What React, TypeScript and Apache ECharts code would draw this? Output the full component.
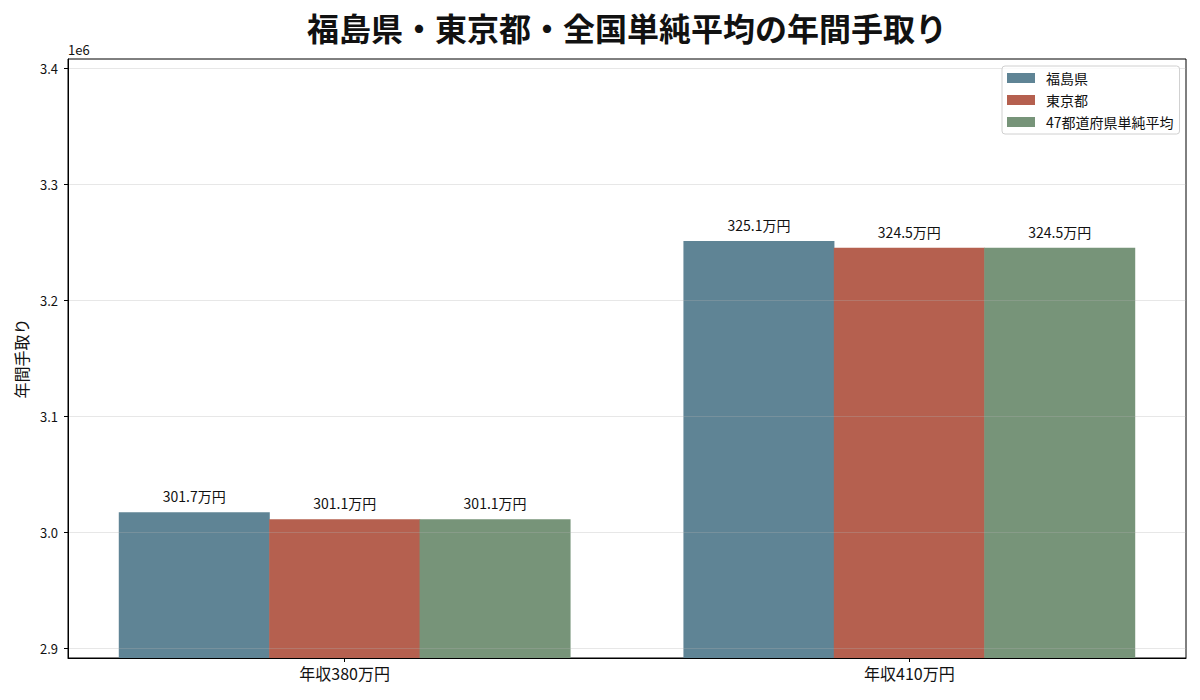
import { useEffect, useRef } from 'react';
import * as echarts from 'echarts';

const categories = ['年収380万円', '年収410万円'];
const fukushima = [3017000, 3251000];
const tokyo = [3011000, 3245000];
const national = [3011000, 3245000];
const seriesNames = ['福島県', '東京都', '47都道府県単純平均'];
const colors = ['#5F8495', '#B5604F', '#779479'];
const yTicks = [2900000, 3000000, 3100000, 3200000, 3300000, 3400000];

const FONT = '"Noto Sans CJK JP", "Noto Sans", sans-serif';

export default function App() {
  const ref = useRef<HTMLDivElement | null>(null);

  useEffect(() => {
    document.body.style.margin = '0';
    if (!ref.current) return;
    const chart = echarts.init(ref.current, undefined, { renderer: 'svg' });

    const makeSeries = (name: string, values: number[], color: string) => ({
      name,
      type: 'bar',
      data: values.map((v, i) => [i, v]),
      barWidth: 151,
      barGap: '-0.4%',
      itemStyle: { color, borderWidth: 0 },
      label: {
        show: true,
        position: 'top',
        distance: 9,
        color: '#111',
        fontSize: 14,
        fontFamily: FONT,
        formatter: (p: any) => `${(p.value[1] / 10000).toFixed(1)}万円`,
      },
    });

    chart.setOption({
      animation: false,
      textStyle: { fontFamily: FONT },
      grid: {
        left: 68,
        right: 14,
        top: 59,
        bottom: 42,
        show: true,
        borderColor: '#000',
        borderWidth: 1,
        backgroundColor: 'transparent',
        containLabel: false,
        outerBoundsMode: 'none',
      },
      legend: {
        orient: 'vertical',
        left: 1002,
        top: 66,
        padding: [5, 6, 5, 5],
        itemWidth: 28,
        itemHeight: 10,
        itemGap: 8,
        icon: 'rect',
        borderColor: '#d0d0d0',
        borderWidth: 1,
        borderRadius: 3,
        backgroundColor: 'rgba(255,255,255,0.8)',
        textStyle: {
          fontSize: 14,
          color: '#111',
          lineHeight: 14,
          padding: [0, 0, 0, 6],
          fontFamily: FONT,
        },
        data: seriesNames,
      },
      xAxis: {
        type: 'value',
        min: -0.49,
        max: 1.49,
        z: 3,
        splitLine: { show: false },
        axisLine: { show: true, onZero: false, lineStyle: { color: '#000', width: 1 } },
        axisTick: {
          show: true,
          customValues: [0, 1],
          length: 4,
          lineStyle: { color: '#000' },
        },
        axisLabel: {
          customValues: [0, 1],
          margin: 7,
          fontSize: 16,
          color: '#111',
          fontFamily: FONT,
          formatter: (v: number) => categories[Math.round(v)] ?? '',
        },
      },
      yAxis: {
        type: 'value',
        min: 2891400,
        max: 3407800,
        z: 3,
        name: '年間手取り',
        nameLocation: 'middle',
        nameGap: 38,
        nameTextStyle: { fontSize: 16, color: '#111', fontFamily: FONT },
        axisLine: { show: true, onZero: false, lineStyle: { color: '#000', width: 1 } },
        axisTick: {
          show: true,
          customValues: yTicks,
          length: 4,
          lineStyle: { color: '#000' },
        },
        axisLabel: {
          customValues: yTicks,
          margin: 10,
          fontSize: 13,
          color: '#111',
          fontFamily: FONT,
          formatter: (v: number) => (v / 1e6).toFixed(1),
        },
        splitLine: {
          show: true,
          lineStyle: { color: 'rgba(176,176,176,0.3)', width: 1 },
        },
      },
      graphic: [
        {
          type: 'text',
          x: 627,
          y: 27,
          style: {
            text: '福島県・東京都・全国単純平均の年間手取り',
            font: `bold 32px ${FONT}`,
            fill: '#111',
            textAlign: 'center',
            textVerticalAlign: 'middle',
          },
        },
        {
          type: 'text',
          x: 68,
          y: 49,
          style: {
            text: '1e6',
            font: `13px ${FONT}`,
            fill: '#111',
            textAlign: 'left',
            textVerticalAlign: 'middle',
          },
        },
      ],
      series: [
        makeSeries(seriesNames[0], fukushima, colors[0]),
        makeSeries(seriesNames[1], tokyo, colors[1]),
        makeSeries(seriesNames[2], national, colors[2]),
      ],
    });

    return () => {
      chart.dispose();
    };
  }, []);

  return <div ref={ref} style={{ width: 1200, height: 700 }} />;
}
